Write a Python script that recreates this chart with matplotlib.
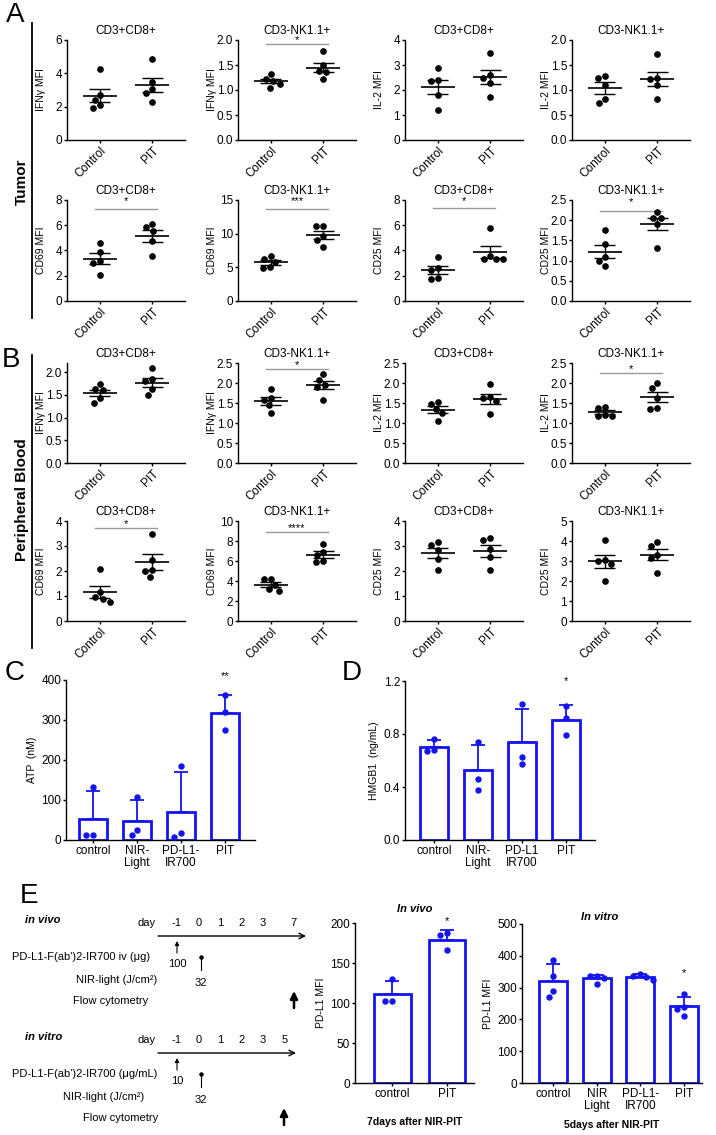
import numpy as np
import matplotlib
matplotlib.use("Agg")
import matplotlib.pyplot as plt
from matplotlib.ticker import FormatStrFormatter

plt.rcParams['font.family'] = ['Liberation Sans', 'DejaVu Sans']

W, H = 716, 1135
BLUE = '#1414f0'

# ---- data: panels A/B, (control, PIT) MFI values, n=5 ----
groups = ["Control", "PIT"]
tumor_ifng_cd8 = ([4.25, 2.7, 2.4, 2.1, 1.9], [4.85, 3.5, 3.05, 2.85, 2.3])
tumor_ifng_nk = ([1.33, 1.22, 1.18, 1.12, 1.05], [1.78, 1.5, 1.38, 1.36, 1.22])
tumor_il2_cd8 = ([2.87, 2.4, 2.35, 1.82, 1.22], [3.47, 2.6, 2.5, 2.3, 1.72])
tumor_il2_nk = ([1.29, 1.25, 1.1, 0.82, 0.74], [1.72, 1.25, 1.22, 1.1, 0.82])
tumor_cd69_cd8 = ([4.6, 3.9, 3.2, 3.0, 2.05], [6.1, 5.85, 5.55, 4.75, 3.55])
tumor_cd69_nk = ([6.7, 6.3, 5.8, 5.0, 4.9], [11.2, 11.1, 9.6, 9.1, 8.0])
tumor_cd25_cd8 = ([3.5, 2.6, 2.45, 1.85, 1.75], [5.8, 3.6, 3.35, 3.3, 3.3])
tumor_cd25_nk = ([1.75, 1.4, 1.1, 1.0, 0.87], [2.2, 2.05, 2.05, 1.9, 1.32])
blood_ifng_cd8 = ([1.74, 1.62, 1.6, 1.42, 1.32], [2.08, 1.84, 1.8, 1.62, 1.5])
blood_ifng_nk = ([1.85, 1.62, 1.58, 1.45, 1.25], [2.22, 2.07, 1.95, 1.9, 1.58])
blood_il2_cd8 = ([1.52, 1.48, 1.35, 1.25, 1.05], [1.97, 1.66, 1.62, 1.55, 1.22])
blood_il2_nk = ([1.4, 1.37, 1.2, 1.18, 1.18], [2.01, 1.88, 1.62, 1.37, 1.35])
blood_cd69_cd8 = ([2.1, 1.15, 0.95, 0.9, 0.77], [3.5, 2.45, 2.05, 2.0, 1.78])
blood_cd69_nk = ([4.2, 4.2, 3.6, 3.2, 3.05], [7.7, 6.95, 6.6, 6.0, 5.9])
blood_cd25_cd8 = ([3.15, 3.05, 2.85, 2.5, 2.05], [3.33, 3.25, 2.9, 2.55, 2.05])
blood_cd25_nk = ([4.07, 3.05, 3.0, 2.85, 1.98], [3.95, 3.75, 3.3, 3.15, 2.38])

# ---- data: panels C/D ----
cd_labels_c = ["control", "NIR-\nLight", "PD-L1-\nIR700", "PIT"]
cd_labels_d = ["control", "NIR-\nLight", "PD-L1\nIR700", "PIT"]
atp = [[132, 12, 12], [108, 25, 12], [185, 17, 8], [362, 320, 274]]
hmgb1 = [[0.76, 0.68, 0.67], [0.74, 0.46, 0.38], [1.025, 0.63, 0.575], [1.01, 0.92, 0.795]]

# ---- data: panel E ----
vivo_labels = ["control", "PIT"]
pdl1_vivo = [[130, 102, 102], [187, 185, 166]]
vitro_labels = ["control", "NIR\nLight", "PD-L1-\nIR700", "PIT"]
pdl1_vitro = [[388, 335, 290, 272], [338, 336, 330, 312], [344, 336, 332, 325], [280, 240, 232, 212]]
vivo_days = ["-1", "0", "1", "2", "3", "7"]
vitro_days = ["-1", "0", "1", "2", "3", "5"]

fig = plt.figure(figsize=(W / 100, H / 100), dpi=100)


def px_axes(l, t, r, b):
    return fig.add_axes([l / W, 1 - b / H, (r - l) / W, (b - t) / H])


def swarm(vals, px_per_unit, min_d=7.0):
    # simple beeswarm: pixel offsets so dots don't overlap
    ys = np.asarray(vals, float) * px_per_unit
    cands = sorted(np.arange(-20, 20.5, 0.5), key=abs)
    offs = np.zeros(len(ys))
    placed = []
    for i in np.argsort(-ys):
        for c in cands:
            if all((c - ox) ** 2 + (ys[i] - oy) ** 2 >= min_d ** 2 for ox, oy in placed):
                break
        offs[i] = c
        placed.append((c, ys[i]))
    return offs


def style_axes(ax, fs=8.5):
    for s in ['top', 'right']:
        ax.spines[s].set_visible(False)
    for s in ['left', 'bottom']:
        ax.spines[s].set_linewidth(1)
    ax.tick_params(length=2.5, width=1, labelsize=fs, pad=1)


# ---- panels A and B: scatter with mean +/- SEM ----
rows_px = [(40, 140), (200, 301), (363, 463), (521, 621)]
cols_px = [67, 238, 405, 572]
AX_W = 118
XLIM = (-0.63, 1.63)

# (row, col, data, title, ylabel, ymax, tick step, significance (stars, line y, star offset px))
scatter_specs = [
    (0, 0, tumor_ifng_cd8, "CD3+CD8+", "IFNγ MFI", 6, 2, None),
    (0, 1, tumor_ifng_nk, "CD3-NK1.1+", "IFNγ MFI", 2.0, 0.5, ("*", 1.93, 3)),
    (0, 2, tumor_il2_cd8, "CD3+CD8+", "IL-2 MFI", 4, 1, None),
    (0, 3, tumor_il2_nk, "CD3-NK1.1+", "IL-2 MFI", 2.0, 0.5, None),
    (1, 0, tumor_cd69_cd8, "CD3+CD8+", "CD69 MFI", 8, 2, ("*", 7.27, 8)),
    (1, 1, tumor_cd69_nk, "CD3-NK1.1+", "CD69 MFI", 15, 5, ("***", 13.6, 8)),
    (1, 2, tumor_cd25_cd8, "CD3+CD8+", "CD25 MFI", 8, 2, ("*", 7.33, 7)),
    (1, 3, tumor_cd25_nk, "CD3-NK1.1+", "CD25 MFI", 2.5, 0.5, ("*", 2.22, 9)),
    (2, 0, blood_ifng_cd8, "CD3+CD8+", "IFNγ MFI", 2.2, 0.5, None),
    (2, 1, blood_ifng_nk, "CD3-NK1.1+", "IFNγ MFI", 2.5, 0.5, ("*", 2.35, 4)),
    (2, 2, blood_il2_cd8, "CD3+CD8+", "IL-2 MFI", 2.5, 0.5, None),
    (2, 3, blood_il2_nk, "CD3-NK1.1+", "IL-2 MFI", 2.5, 0.5, ("*", 2.24, 4)),
    (3, 0, blood_cd69_cd8, "CD3+CD8+", "CD69 MFI", 4, 1, ("*", 3.72, 4)),
    (3, 1, blood_cd69_nk, "CD3-NK1.1+", "CD69 MFI", 10, 2, ("****", 8.94, 4)),
    (3, 2, blood_cd25_cd8, "CD3+CD8+", "CD25 MFI", 4, 1, None),
    (3, 3, blood_cd25_nk, "CD3-NK1.1+", "CD25 MFI", 5, 1, None),
]

for r, c, data, title, ylabel, ymax, step, sig in scatter_specs:
    top, bot = rows_px[r]
    left = cols_px[c]
    ax = px_axes(left, top, left + AX_W, bot)
    ax.set_xlim(*XLIM)
    ax.set_ylim(0, ymax)
    px_y = (bot - top) / ymax
    px_x = AX_W / (XLIM[1] - XLIM[0])
    for i, vals in enumerate(data):
        vals = np.asarray(vals)
        xs = i + swarm(vals, px_y) / px_x
        ax.plot(xs, vals, 'o', color='k', ms=3.8, zorder=3, clip_on=False)
        m = vals.mean()
        sem = vals.std(ddof=1) / np.sqrt(len(vals))
        ax.hlines(m, i - 0.32, i + 0.32, color='k', lw=1.2, zorder=4)
        ax.vlines(i, m - sem, m + sem, color='k', lw=1, zorder=4)
        ax.hlines([m - sem, m + sem], i - 0.2, i + 0.2, color='k', lw=1, zorder=4)
    if sig:
        star, sig_y, off = sig
        ax.plot([-0.1, 1.1], [sig_y, sig_y], color='#9a9a9a', lw=1, clip_on=False)
        ax.annotate(star, (0.5, sig_y), xytext=(0, off * 0.72), textcoords='offset points',
                    ha='center', va='center', fontsize=8)
    ax.set_yticks(np.arange(0, ymax + 1e-9, step))
    ax.yaxis.set_major_formatter(FormatStrFormatter('%.1f' if step < 1 else '%d'))
    ax.set_xticks([0, 1])
    ax.set_xticklabels(groups, rotation=45, ha='right', rotation_mode='anchor')
    ax.set_title(title, fontsize=8.5, pad=4)
    ax.set_ylabel(ylabel, fontsize=7.5)
    ax.yaxis.set_label_coords(-0.175, 0.5)
    style_axes(ax, 8.5)


# ---- bar panels (mean + SD, individual points) ----
def bar_panel(ax, data, labels, xlim, ymax, yticks, fmt, ylabel, width, stars, fs=8.5):
    n = len(data)
    x = np.arange(n)
    means = [np.mean(v) for v in data]
    sds = [np.std(v, ddof=1) for v in data]
    ax.set_xlim(*xlim)
    ax.set_ylim(0, ymax)
    bb = ax.get_position()
    px_y = bb.height * H / ymax
    px_x = bb.width * W / (xlim[1] - xlim[0])
    ax.bar(x, means, width, facecolor='white', edgecolor=BLUE, lw=2, zorder=1)
    ax.errorbar(x, means, yerr=[np.zeros(n), sds], fmt='none', ecolor=BLUE,
                elinewidth=1.3, capsize=5, capthick=1.3, zorder=2)
    for i, vals in enumerate(data):
        xs = i + swarm(vals, px_y, min_d=7.0) / px_x
        ax.plot(xs, vals, 'o', color=BLUE, ms=3.6, zorder=3, clip_on=False)
    for i, (txt, y) in stars.items():
        ax.text(i, y, txt, ha='center', va='center', fontsize=8)
    ax.set_xticks(x)
    ax.set_xticklabels(labels, fontsize=fs, linespacing=1.05)
    ax.set_yticks(yticks)
    ax.yaxis.set_major_formatter(FormatStrFormatter(fmt))
    ax.set_ylabel(ylabel, fontsize=7.5, labelpad=3)
    style_axes(ax, fs)


axC = px_axes(66, 680, 255, 840)
bar_panel(axC, atp, cd_labels_c, (-0.61, 3.68), 400, [0, 100, 200, 300, 400], '%d',
          "ATP  (nM)", 0.64, {3: ("**", 410)})

axD = px_axes(405, 681, 595, 840)
bar_panel(axD, hmgb1, cd_labels_d, (-0.66, 3.66), 1.2, [0.0, 0.4, 0.8, 1.2], '%.1f',
          "HMGB1  (ng/mL)", 0.64, {3: ("*", 1.2)})

axE1 = px_axes(355, 923, 474, 1083)
bar_panel(axE1, pdl1_vivo, vivo_labels, (-0.69, 1.5), 200, [0, 50, 100, 150, 200], '%d',
          "PD-L1 MFI", 0.67, {1: ("*", 203)})

axE2 = px_axes(522, 924, 702, 1083)
bar_panel(axE2, pdl1_vitro, vitro_labels, (-0.71, 3.41), 500, [0, 100, 200, 300, 400, 500], '%d',
          "PD-L1 MFI", 0.64, {3: ("*", 345)})

fig.text(415 / W, 1 - 909 / H, "In vivo", fontsize=8, fontweight='bold', style='italic',
         ha='center', va='center')
fig.text(600 / W, 1 - 917 / H, "In vitro", fontsize=8, fontweight='bold', style='italic',
         ha='center', va='center')
fig.text(415 / W, 1 - 1122 / H, "7days after NIR-PIT", fontsize=7.5, fontweight='bold',
         ha='center', va='center')
fig.text(612 / W, 1 - 1125 / H, "5days after NIR-PIT", fontsize=7.5, fontweight='bold',
         ha='center', va='center')

# ---- panel E schematic, drawn in pixel coordinates ----
sch = fig.add_axes([0, 0, 340 / W, (1135 - 880) / H])
sch.set_xlim(0, 340)
sch.set_ylim(1135, 880)
sch.axis('off')


def arrow(x0, y0, x1, y1, lw, ms, style='-|>'):
    sch.annotate("", xy=(x1, y1), xytext=(x0, y0),
                 arrowprops=dict(arrowstyle=style, lw=lw, color='k', mutation_scale=ms,
                                 shrinkA=0, shrinkB=0))


def timeline(title, y_line, days, last_gap, arrow_end, dose_txt, dose, text_x, flow_x):
    fs = 8
    sch.text(25, y_line - 16, title, fontsize=fs, fontweight='bold', style='italic', va='center')
    sch.text(147, y_line - 13, "day", fontsize=fs, ha='center', va='center')
    xs = [177 + 21.5 * k for k in range(len(days))]
    xs[-1] += last_gap
    for x, d in zip(xs, days):
        sch.text(x, y_line - 13, d, fontsize=fs, ha='center', va='center')
    arrow(158, y_line, arrow_end, y_line, 1, 10, '->')
    # antibody injection
    arrow(xs[0], y_line + 17, xs[0], y_line + 5, 0.8, 6)
    sch.text(xs[0], y_line + 28, dose, fontsize=fs, ha='center', va='center')
    # NIR light
    sch.plot([xs[1] + 2, xs[1] + 2], [y_line + 21, y_line + 34], color='k', lw=0.8)
    sch.plot(xs[1] + 2, y_line + 21, 'o', color='k', ms=2.2)
    sch.text(xs[1] + 2, y_line + 47, "32", fontsize=fs, ha='center', va='center')
    sch.text(text_x[0], y_line + 21, dose_txt, fontsize=fs, va='center')
    sch.text(text_x[1], y_line + 44, "NIR-light (J/cm²)", fontsize=fs, va='center')
    sch.text(text_x[2], y_line + 65, "Flow cytometry", fontsize=fs, va='center')
    arrow(flow_x, y_line + 72, flow_x, y_line + 55, 1.8, 11)


timeline("in vivo", 936, vivo_days, 8.5, 306, "PD-L1-F(ab')2-IR700 iv (μg)", "100",
         (12, 76, 73), 294)
timeline("in vitro", 1053, vitro_days, 0, 296, "PD-L1-F(ab')2-IR700 (μg/mL)", "10",
         (12, 63, 83), 284)

# ---- panel letters and section labels ----
for letter, x, y in [("A", 15, 15), ("B", 11, 360), ("C", 15, 673), ("D", 352, 673), ("E", 29, 896)]:
    fig.text(x / W, 1 - y / H, letter, fontsize=20, ha='center', va='center')

fig.add_artist(plt.Line2D([32 / W, 32 / W], [1 - 23 / H, 1 - 318 / H], color='k', lw=1.3))
fig.add_artist(plt.Line2D([32 / W, 32 / W], [1 - 355 / H, 1 - 648 / H], color='k', lw=1.3))
fig.text(22 / W, 1 - 182 / H, "Tumor", fontsize=11, fontweight='bold', rotation=90,
         ha='center', va='center')
fig.text(22 / W, 1 - 500 / H, "Peripheral Blood", fontsize=11, fontweight='bold', rotation=90,
         ha='center', va='center')

fig.savefig("out.png", dpi=100)
